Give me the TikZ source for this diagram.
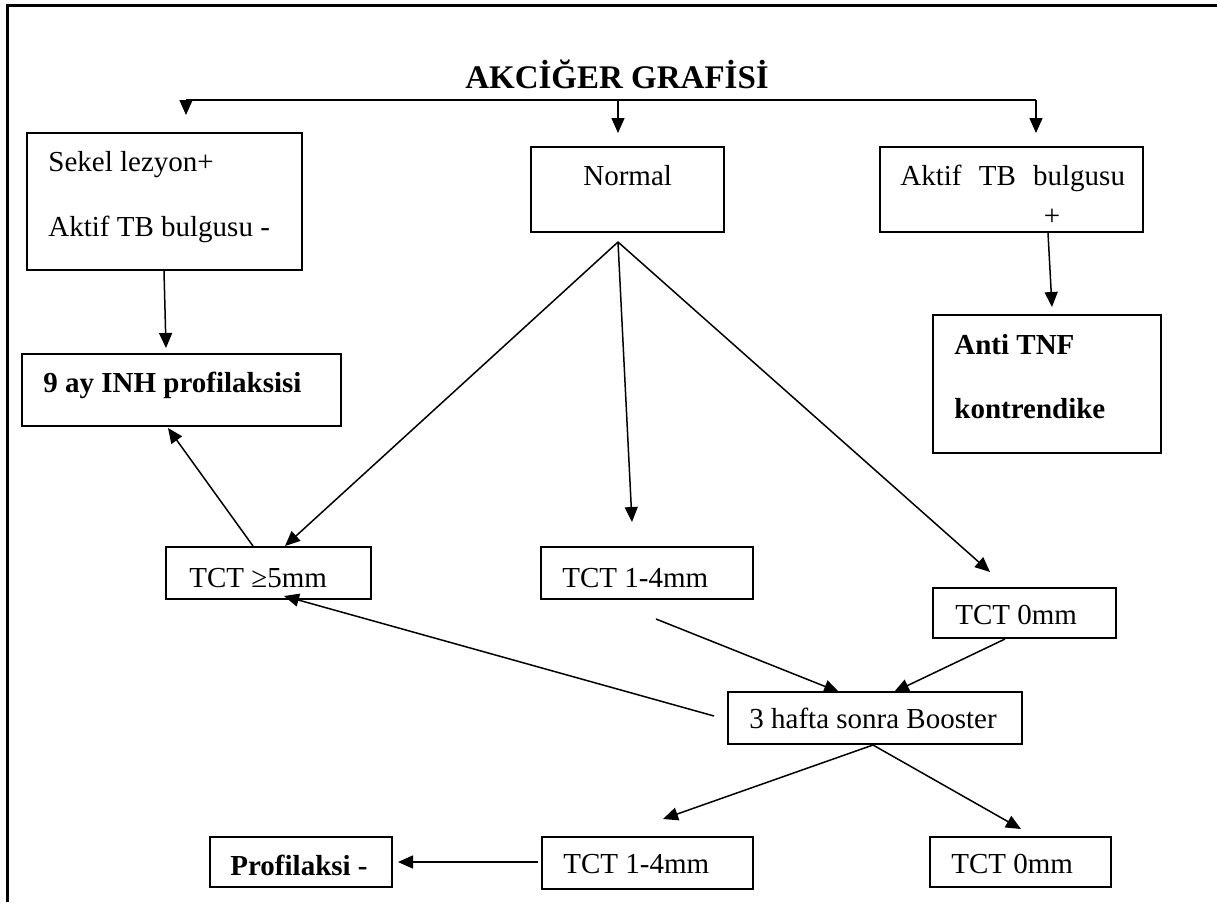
\documentclass[tikz,border=0pt]{standalone}
\usepackage{fontspec}
\setmainfont{Liberation Serif}
\usetikzlibrary{arrows.meta,fit,calc}
\begin{document}
\begin{tikzpicture}[x=0.5pt,y=-0.5pt,
  box/.style={draw, line width=1pt, inner sep=0pt},
  txt/.style={inner sep=0pt, anchor=base west, font=\fontsize{14.5}{17}\selectfont},
  btxt/.style={inner sep=0pt, anchor=base west, font=\fontsize{14.5}{17}\selectfont\bfseries},
  conn/.style={line width=0.75pt, -{Triangle[length=7.5pt,width=6.5pt]}},
  plain/.style={line width=0.75pt}]
\useasboundingbox (0,0) rectangle (1217,902);
\fill[white] (0,0) rectangle (1217,902);
% frame
\draw[line width=1.5pt] (7,902) -- (7,5) -- (1217,5);
% title
\node[anchor=base, inner sep=0pt, font=\fontsize{16.5}{20}\selectfont\bfseries] (title) at (617,88) {AKCİĞER GRAFİSİ};
% boxes
\node[box, fit={(27,133) (302,270)}] (sekel) {};
\node[box, fit={(531,147) (724,232)}] (normal) {};
\node[box, fit={(880,147) (1143,232)}] (aktif) {};
\node[box, fit={(22,354) (341,426)}] (inh) {};
\node[box, fit={(933,315) (1161,453)}] (anti) {};
\node[box, fit={(166,547) (371,599)}] (tct5) {};
\node[box, fit={(541,547) (753,599)}] (tct14) {};
\node[box, fit={(933,588) (1116,638)}] (tct0) {};
\node[box, fit={(728,692) (1022,744)}] (boost) {};
\node[box, fit={(210,837) (392,887)}] (prof) {};
\node[box, fit={(542,837) (753,889)}] (tct14b) {};
\node[box, fit={(930,837) (1111,887)}] (tct0b) {};
% texts
\node[txt] (t1) at (48,171) {Sekel lezyon+};
\node[txt] (t2) at (48,236) {Aktif TB bulgusu -};
\node[txt] (t3) at (583,185) {Normal};
\node[txt] (t4) at (900,185) {Aktif\hspace{5pt} TB\hspace{5pt} bulgusu};
\node[inner sep=0pt, font=\fontsize{14.5}{17}\selectfont] (t5) at (1052,217) {+};
\node[btxt] (t6) at (43,392) {9 ay INH profilaksisi};
\node[btxt] (t7) at (954,354) {Anti TNF};
\node[btxt] (t8) at (954,418) {kontrendike};
\node[txt] (t9) at (189,587) {TCT ≥5mm};
\node[txt] (t10) at (562,587) {TCT 1-4mm};
\node[txt] (t11) at (955,624) {TCT 0mm};
\node[txt] (t12) at (749,728) {3 hafta sonra Booster};
\node[btxt] (t13) at (230,875) {Profilaksi -};
\node[txt] (t14) at (563,873) {TCT 1-4mm};
\node[txt] (t15) at (951,873) {TCT 0mm};
% named free ends
\coordinate (tl) at (186,100);
\coordinate (tm) at (618,100);
\coordinate (tr) at (1036,100);
\coordinate (tlE) at (186,115);
\coordinate (tmE) at (618,133);
\coordinate (trE) at (1036,133);
\coordinate (apex) at (618,242);
% connectors
\draw[plain] (tl) -- (tr);
\draw[conn] (tl) -- (tlE);
\draw[conn] (tm) -- (tmE);
\draw[conn] (tr) -- (trE);
\draw[conn] (sekel.south -| 164,0) -- (166,348);
\draw[conn] (aktif.south -| 1048,0) -- (1052,307);
\draw[conn] (apex) -- (285,546);
\draw[conn] (apex) -- (632,522);
\draw[conn] (apex) -- (990,572);
\draw[conn] (tct5.north -| 253,0) -- (168,428);
\draw[conn] (714,716) -- (284,596);
\draw[conn] (656,619) -- (839,692);
\draw[conn] (tct0.south -| 1005,0) -- (894,692);
\draw[conn] (boost.south -| 873,0) -- (663,819);
\draw[conn] (boost.south -| 873,0) -- (1021,829);
\draw[conn] (538,862) -- (398,862);
\end{tikzpicture}
\end{document}
